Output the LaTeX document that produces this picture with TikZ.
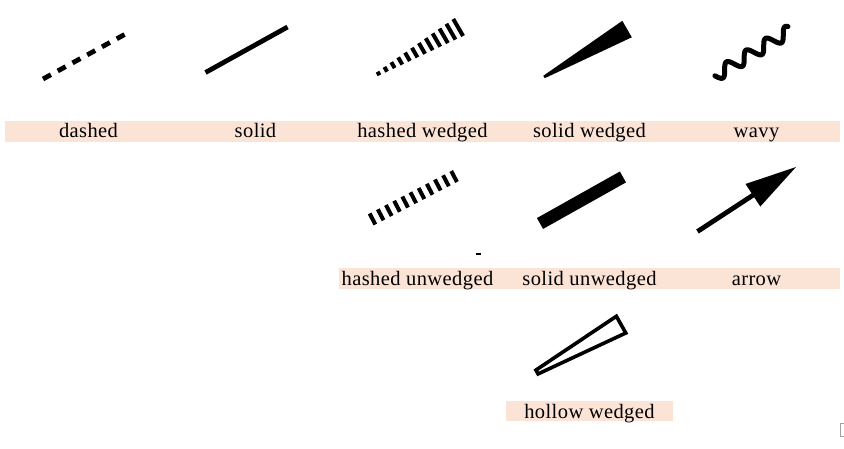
\documentclass[tikz,border=0pt]{standalone}
\usepackage{fontspec}
\setmainfont{Liberation Serif}[LetterSpace=2]
\definecolor{barfill}{HTML}{FBE3D6}
\definecolor{bracketgray}{HTML}{A0A0A0}
\begin{document}
\begin{tikzpicture}[x=1pt,y=-1pt,
  lbl/.style={anchor=base, font=\fontsize{20.5}{24}\selectfont, inner sep=0pt},
  labelbar/.style={fill=barfill, draw=none},
  thickline/.style={line width=4.8pt},
  hashbar/.style={line width=4pt}]
\useasboundingbox (0,0) rectangle (844,449);
\fill[white] (0,0) rectangle (844,449);

% label bars
\fill[labelbar] (5,121) rectangle (840,142);
\fill[labelbar] (338.5,268.5) rectangle (840,289.5);
\fill[labelbar] (506,401) rectangle (673,421);

% labels
\node[lbl] (t1) at (88.5,137.5) {dashed};
\node[lbl] (t2) at (255.5,137.5) {solid};
\node[lbl] (t3) at (422.5,137.5) {hashed wedged};
\node[lbl] (t4) at (589.5,137.5) {solid wedged};
\node[lbl] (t5) at (756.5,137.5) {wavy};
\node[lbl] (t6) at (417.5,285.5) {hashed unwedged};
\node[lbl] (t7) at (589.5,285.5) {solid unwedged};
\node[lbl] (t8) at (756.5,285.5) {arrow};
\node[lbl] (t9) at (589.5,418) {hollow wedged};

% dashed
\begin{scope}[shift={(43,79)}, rotate=28.6]
  \draw[thickline, dash pattern=on 9pt off 7.8pt] (0,0) -- (92.9,0);
\end{scope}

% solid
\begin{scope}[shift={(205.5,72.5)}, rotate=29.0]
  \draw[thickline] (0,0) -- (93.8,0);
\end{scope}

% hashed wedged
\begin{scope}[shift={(378.5,73.5)}, rotate=30.0]
  \foreach \i in {0,...,11}{
    \pgfmathsetmacro\s{\i*92/11}
    \pgfmathsetmacro\h{2+\i*7.8/11}
    \draw[hashbar] (\s,-\h) -- (\s,\h);
  }
\end{scope}

% solid wedged
\begin{scope}[shift={(544,77)}, rotate=30.0]
  \fill (0,-1.4) -- (95.9,-9.5) -- (95.9,9.5) -- (0,1.4) -- cycle;
\end{scope}

% wavy
\begin{scope}[shift={(714.9,75.8)}, rotate=31]
  \draw[line width=5pt, line cap=round] plot[domain=0:88, samples=140, smooth] (\x, {6*sin(\x*15.8)});
\end{scope}

% hashed unwedged
\begin{scope}[shift={(372.5,219)}, rotate=27.5]
  \foreach \i in {0,...,10}{
    \pgfmathsetmacro\s{\i*92/10}
    \draw[hashbar] (\s,-6.2) -- (\s,6.2);
  }
\end{scope}

% stray mark
\fill (476,252.8) rectangle (481,255.2);

% solid unwedged
\begin{scope}[shift={(540,223.5)}, rotate=29.3]
  \draw[line width=12.5pt] (0,0) -- (95.1,0);
\end{scope}

% arrow
\begin{scope}[shift={(697.5,231.5)}, rotate=33.2]
  \coordinate (as) at (0,0);
  \coordinate (ab) at (67,0);
  \coordinate (at) at (117.7,0);
  \draw[thickline] (as) -- (ab);
  \fill (at) -- (66.2,-13.5) -- (66.2,13.5) -- cycle;
\end{scope}

% hollow wedged
\begin{scope}[shift={(537,372)}, rotate=29.4]
  \draw[line width=3.6pt, miter limit=10] (0,-2.2) -- (96.5,-9.6) -- (96.5,9.6) -- (0,2.2) -- cycle;
\end{scope}

% gray bracket at corner
\draw[bracketgray, line width=1pt] (844,423.2) -- (840.5,423.2) -- (840.5,436.5) -- (844,436.5);
\end{tikzpicture}
\end{document}
